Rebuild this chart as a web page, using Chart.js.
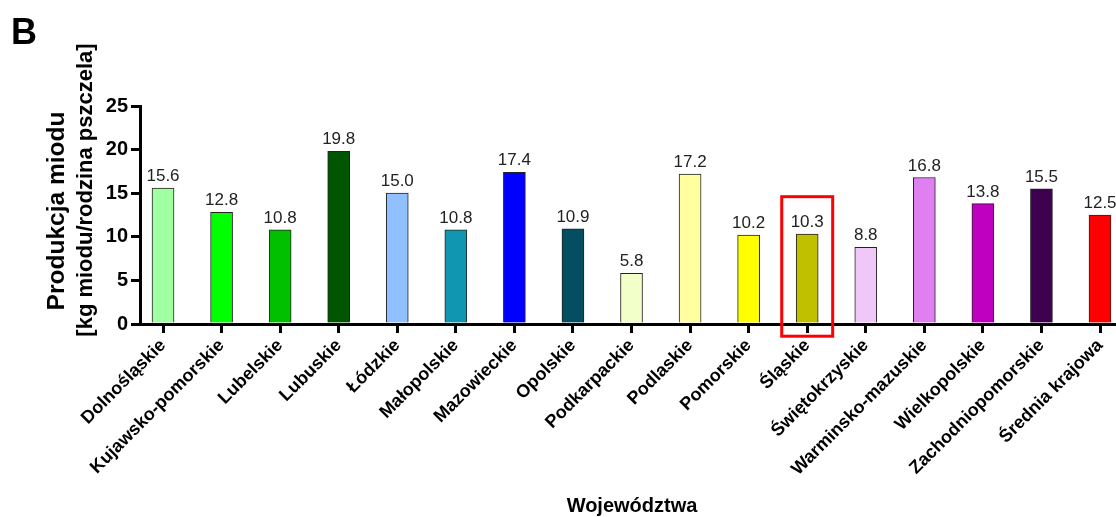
<!DOCTYPE html>
<html><head><meta charset="utf-8">
<script src="https://cdn.jsdelivr.net/npm/chart.js@4.4.1/dist/chart.umd.min.js"></script>
<style>html,body{margin:0;padding:0;background:#fff;overflow:hidden}canvas{display:block}</style>
</head><body>
<canvas id="c" width="1116" height="517"></canvas>
<script>
const categories = ['Dolnośląskie','Kujawsko-pomorskie','Lubelskie','Lubuskie','Łódzkie','Małopolskie','Mazowieckie','Opolskie','Podkarpackie','Podlaskie','Pomorskie','Śląskie','Świętokrzyskie','Warminsko-mazuskie','Wielkopolskie','Zachodniopomorskie','Średnia krajowa'];
const values = [15.6,12.8,10.8,19.8,15.0,10.8,17.4,10.9,5.8,17.2,10.2,10.3,8.8,16.8,13.8,15.5,12.5];
const barColors = ['#A0FFA0','#00FF00','#00C000','#005500','#90C0FF','#1096B0','#0000FF','#054D60','#F2FFC8','#FFFFA0','#FFFF00','#C0C000','#F0C8F8','#E080F0','#C000C0','#400050','#FF0000'];
const yTickValues = [0,5,10,15,20,25];
const yTitleLines = ['Produkcja miodu','[kg miodu/rodzina pszczela]'];
const xTitle = 'Województwa';
const panelLetter = 'B';
const highlightIndex = 11;      // Śląskie
const highlightTopValue = 14.6; // top of the red box in data units
const highlightBottomValue = -1.4;

const FONT = "'Liberation Sans', Arial, sans-serif";
Chart.defaults.font.family = FONT;

const labelPlugin = {
  id: 'valueLabels',
  afterDatasetsDraw(chart) {
    const ctx = chart.ctx;
    const meta = chart.getDatasetMeta(0);
    ctx.save();
    ctx.font = '17px ' + FONT;
    ctx.fillStyle = '#222';
    ctx.textAlign = 'center';
    ctx.textBaseline = 'alphabetic';
    meta.data.forEach((el, i) => {
      ctx.fillText(values[i].toFixed(1), el.x, el.y - 7);
    });
    ctx.restore();
  }
};

const highlightPlugin = {
  id: 'highlight',
  afterDraw(chart) {
    const xs = chart.scales.x, ys = chart.scales.y;
    const ctx = chart.ctx;
    const x1 = xs.getPixelForValue(highlightIndex - 0.435);
    const x2 = xs.getPixelForValue(highlightIndex + 0.435);
    const y1 = ys.getPixelForValue(highlightTopValue);
    const y2 = ys.getPixelForValue(highlightBottomValue);
    ctx.save();
    ctx.strokeStyle = '#FF0000';
    ctx.lineWidth = 3;
    ctx.strokeRect(x1, y1, x2 - x1, y2 - y1);
    ctx.restore();
  }
};

const titlePlugin = {
  id: 'titles',
  afterDraw(chart) {
    const ctx = chart.ctx;
    ctx.save();
    ctx.fillStyle = '#000';
    ctx.font = 'bold 36px ' + FONT;
    ctx.textAlign = 'left';
    ctx.textBaseline = 'alphabetic';
    ctx.fillText(panelLetter, 11, 44);

    ctx.textAlign = 'center';
    ctx.font = 'bold 24.5px ' + FONT;
    ctx.save();
    ctx.translate(64, 211);
    ctx.rotate(-Math.PI / 2);
    ctx.fillText(yTitleLines[0], 0, 0);
    ctx.restore();
    ctx.font = 'bold 22px ' + FONT;
    ctx.save();
    ctx.translate(92, 190);
    ctx.rotate(-Math.PI / 2);
    ctx.fillText(yTitleLines[1], 0, 0);
    ctx.restore();

    ctx.font = 'bold 20px ' + FONT;
    ctx.fillText(xTitle, 632, 512);
    ctx.restore();
  }
};

new Chart(document.getElementById('c'), {
  type: 'bar',
  data: {
    datasets: [{
      data: values.map((v, i) => ({x: i, y: v})),
      backgroundColor: barColors,
      borderColor: '#222',
      borderWidth: 1,
      borderSkipped: 'start',
      barThickness: 22
    }]
  },
  options: {
    responsive: false,
    animation: false,
    devicePixelRatio: 1,
    layout: {padding: {top: 106, right: 0, bottom: 0, left: 0}},
    plugins: {legend: {display: false}, tooltip: {enabled: false}},
    scales: {
      x: {
        type: 'linear',
        offset: false,
        min: -0.393,
        max: 16.273,
        afterBuildTicks: s => { s.ticks = categories.map((_, i) => ({value: i})); },
        afterFit: s => { s.height = 193; s.paddingLeft = 0; s.paddingRight = 0; },
        ticks: {
          autoSkip: false, minRotation: 45, maxRotation: 45,
          color: '#000', padding: 2,
          font: {family: FONT, weight: 'bold', size: 18},
          callback: v => categories[v] ?? ''
        },
        grid: {offset: false, drawOnChartArea: false, drawTicks: true, tickLength: 9, tickWidth: 3, tickColor: '#000', color: '#000', lineWidth: 3},
        border: {display: true, color: '#000', width: 3}
      },
      y: {
        min: 0, max: 25,
        afterBuildTicks: s => { s.ticks = yTickValues.map(v => ({value: v})); },
        afterFit: s => { s.width = 140; },
        ticks: {color: '#000', padding: 3, font: {family: FONT, weight: 'bold', size: 20}},
        grid: {drawOnChartArea: false, drawTicks: true, tickLength: 9, tickWidth: 3, tickColor: '#000', color: '#000', lineWidth: 3},
        border: {display: true, color: '#000', width: 3}
      }
    }
  },
  plugins: [labelPlugin, highlightPlugin, titlePlugin]
});
</script>
</body></html>
